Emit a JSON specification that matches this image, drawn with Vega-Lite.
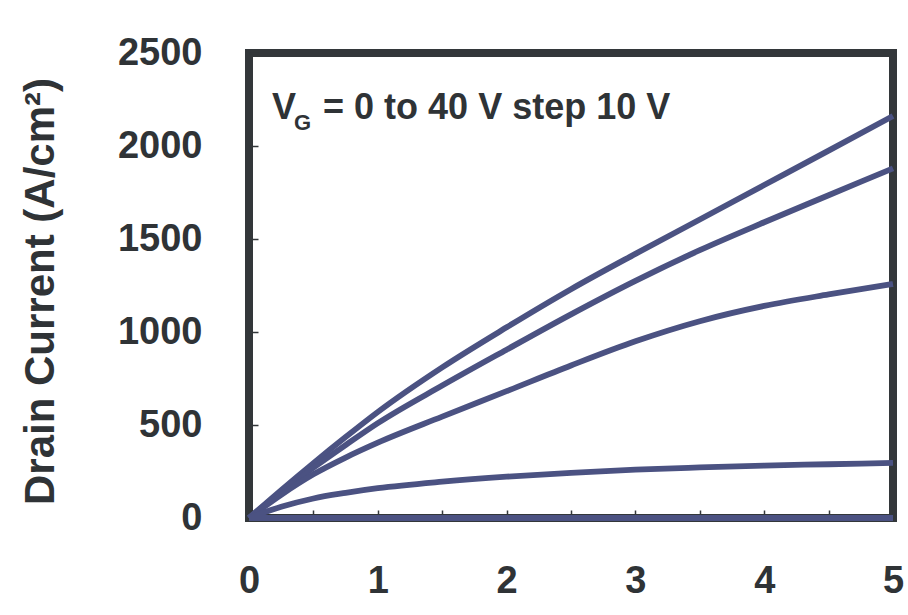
{
  "$schema": "https://vega.github.io/schema/vega-lite/v6.json",
  "width": 644,
  "height": 465,
  "autosize": {"type": "none"},
  "padding": {"left": 249, "top": 53, "right": 15, "bottom": 97},
  "background": "#ffffff",
  "config": {
    "view": {"stroke": "#33373a", "strokeWidth": 8},
    "font": "Liberation Sans",
    "axis": {
      "domain": false,
      "grid": false,
      "labelFont": "Liberation Sans",
      "labelFontWeight": "bold",
      "labelColor": "#2f3336",
      "tickColor": "#33373a",
      "tickWidth": 1.5,
      "titleFont": "Liberation Sans",
      "titleFontWeight": "bold",
      "titleColor": "#2f3336"
    }
  },
  "datasets": {
    "curves": [
      {"vd": 0, "id": 0, "vg": 40}, {"vd": 0.25, "id": 150, "vg": 40}, {"vd": 0.5, "id": 295, "vg": 40}, {"vd": 0.75, "id": 435, "vg": 40}, {"vd": 1, "id": 570, "vg": 40}, {"vd": 1.5, "id": 810, "vg": 40}, {"vd": 2, "id": 1025, "vg": 40}, {"vd": 2.5, "id": 1230, "vg": 40}, {"vd": 3, "id": 1420, "vg": 40}, {"vd": 3.5, "id": 1605, "vg": 40}, {"vd": 4, "id": 1790, "vg": 40}, {"vd": 4.5, "id": 1975, "vg": 40}, {"vd": 5, "id": 2161, "vg": 40},
      {"vd": 0, "id": 0, "vg": 30}, {"vd": 0.25, "id": 140, "vg": 30}, {"vd": 0.5, "id": 270, "vg": 30}, {"vd": 0.75, "id": 392, "vg": 30}, {"vd": 1, "id": 510, "vg": 30}, {"vd": 1.5, "id": 712, "vg": 30}, {"vd": 2, "id": 905, "vg": 30}, {"vd": 2.5, "id": 1095, "vg": 30}, {"vd": 3, "id": 1275, "vg": 30}, {"vd": 3.5, "id": 1440, "vg": 30}, {"vd": 4, "id": 1590, "vg": 30}, {"vd": 4.5, "id": 1735, "vg": 30}, {"vd": 5, "id": 1880, "vg": 30},
      {"vd": 0, "id": 0, "vg": 20}, {"vd": 0.25, "id": 125, "vg": 20}, {"vd": 0.5, "id": 235, "vg": 20}, {"vd": 0.75, "id": 325, "vg": 20}, {"vd": 1, "id": 405, "vg": 20}, {"vd": 1.5, "id": 545, "vg": 20}, {"vd": 2, "id": 682, "vg": 20}, {"vd": 2.5, "id": 820, "vg": 20}, {"vd": 3, "id": 950, "vg": 20}, {"vd": 3.5, "id": 1058, "vg": 20}, {"vd": 4, "id": 1140, "vg": 20}, {"vd": 4.5, "id": 1202, "vg": 20}, {"vd": 5, "id": 1258, "vg": 20},
      {"vd": 0, "id": 0, "vg": 10}, {"vd": 0.25, "id": 60, "vg": 10}, {"vd": 0.5, "id": 105, "vg": 10}, {"vd": 0.75, "id": 135, "vg": 10}, {"vd": 1, "id": 160, "vg": 10}, {"vd": 1.5, "id": 195, "vg": 10}, {"vd": 2, "id": 222, "vg": 10}, {"vd": 2.5, "id": 243, "vg": 10}, {"vd": 3, "id": 260, "vg": 10}, {"vd": 3.5, "id": 272, "vg": 10}, {"vd": 4, "id": 282, "vg": 10}, {"vd": 4.5, "id": 289, "vg": 10}, {"vd": 5, "id": 296, "vg": 10},
      {"vd": 0, "id": 0, "vg": 0}, {"vd": 5, "id": 0, "vg": 0}
    ],
    "note": [
      {"vd": 0.179, "id": 2145, "text": "V", "part": "main"},
      {"vd": 0.349, "id": 2086, "text": "G", "part": "sub"},
      {"vd": 0.575, "id": 2145, "text": "= 0 to 40 V step 10 V", "part": "rest"}
    ]
  },
  "layer": [
    {
      "data": {"name": "curves"},
      "mark": {"type": "line", "interpolate": "monotone", "strokeWidth": 5.8, "color": "#4b5282", "strokeCap": "butt", "clip": false},
      "encoding": {
        "x": {
          "field": "vd", "type": "quantitative",
          "scale": {"domain": [0, 5], "nice": false, "zero": false},
          "axis": {
            "title": null,
            "values": [0, 0.5, 1, 1.5, 2, 2.5, 3, 3.5, 4, 4.5, 5],
            "labelExpr": "datum.value % 1 === 0 ? format(datum.value, 'd') : ''",
            "labelFontSize": 38,
            "tickSize": -8,
            "labelPadding": 52,
            "labelFlush": false,
            "labelOverlap": false
          }
        },
        "y": {
          "field": "id", "type": "quantitative",
          "scale": {"domain": [0, 2500], "nice": false},
          "axis": {
            "title": "Drain Current (A/cm²)",
            "values": [0, 500, 1000, 1500, 2000, 2500],
            "format": "d",
            "labelFontSize": 38,
            "tickSize": -9,
            "labelPadding": 56,
            "labelFlush": false,
            "titleFontSize": 42,
            "titleX": -196,
            "titleY": 238,
            "titleBaseline": "alphabetic",
            "titleAnchor": "middle"
          }
        },
        "detail": {"field": "vg", "type": "nominal"}
      }
    },
    {
      "data": {"name": "note"},
      "transform": [{"filter": "datum.part !== 'sub'"}],
      "mark": {"type": "text", "align": "left", "baseline": "alphabetic", "font": "Liberation Sans", "fontWeight": "bold", "fontSize": 36, "color": "#2f3336"},
      "encoding": {
        "x": {"field": "vd", "type": "quantitative"},
        "y": {"field": "id", "type": "quantitative"},
        "text": {"field": "text"}
      }
    },
    {
      "data": {"name": "note"},
      "transform": [{"filter": "datum.part === 'sub'"}],
      "mark": {"type": "text", "align": "left", "baseline": "alphabetic", "font": "Liberation Sans", "fontWeight": "bold", "fontSize": 22, "color": "#2f3336"},
      "encoding": {
        "x": {"field": "vd", "type": "quantitative"},
        "y": {"field": "id", "type": "quantitative"},
        "text": {"field": "text"}
      }
    }
  ]
}
